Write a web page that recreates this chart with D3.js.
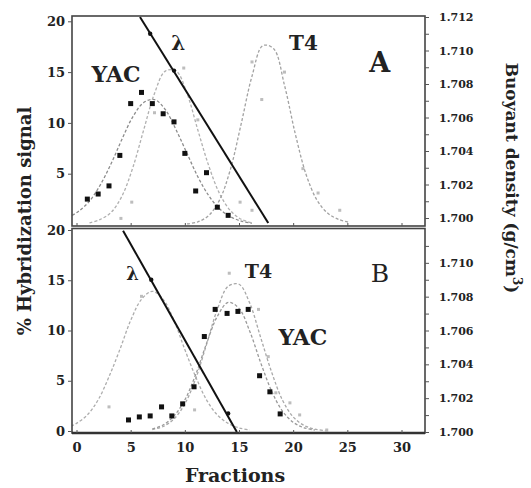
<!DOCTYPE html>
<html><head><meta charset="utf-8">
<script src="https://cdn.jsdelivr.net/npm/d3@7/dist/d3.min.js"></script>
<style>
body{margin:0;background:#fff}
text{font-family:"DejaVu Serif","Liberation Serif",serif;fill:#222}
</style>
</head><body>
<svg id="c" width="531" height="488"></svg>
<script>
// ---------- data ----------
const fractionTicks = [0, 5, 10, 15, 20, 25, 30];
const signalTicksA = [5, 10, 15, 20];
const signalTicksB = [0, 5, 10, 15, 20];
const densityTicksA = [1.700,1.701,1.702,1.703,1.704,1.705,1.706,1.707,1.708,1.709,1.710,1.711,1.712];
const densityLabelsA = [1.700,1.702,1.704,1.706,1.708,1.710,1.712];
const densityTicksB = [1.700,1.701,1.702,1.703,1.704,1.705,1.706,1.707,1.708,1.709,1.710,1.711];
const densityLabelsB = [1.700,1.702,1.704,1.706,1.708,1.710];

// Panel A: fitted curves [fraction, % signal]
const yacCurveA = [[-0.4,0.9],[0.2,1.3],[1.2,2.3],[2.2,3.9],[3.2,6.0],[4.2,8.4],[5.2,10.6],[6.2,12.0],[7.2,12.3],[8.2,11.3],[9.2,9.3],[10.2,7.0],[11.2,4.7],[12.2,2.85],[13.2,1.55],[14.2,0.77],[15.2,0.34],[16.2,0.13]];
const lambdaCurveA = [[1.2,0.17],[2.2,0.5],[3.2,1.2],[4.2,2.8],[5.2,5.6],[6.2,9.3],[7.2,12.9],[8.2,15.1],[9.2,15.1],[10.2,12.9],[11.2,9.3],[12.2,5.8],[13.2,3.05],[14.2,1.37],[15.2,0.52],[16.2,0.17]];
const t4CurveA = [[10.2,0.06],[11.2,0.26],[12.2,0.88],[13.2,2.4],[14.2,5.4],[15.2,9.9],[16.2,14.6],[17.2,17.6],[18.2,17.3],[19.2,13.7],[20.2,8.9],[21.2,4.9],[22.2,2.4],[23.2,1.1],[24.2,0.5],[25.2,0.2]];
// Panel A: measured points
const yacFracA = [1,2,3,4,5,6,7,8,9,10,11,12,13,14];
const yacSignalA = [2.5,3.0,3.8,6.8,11.9,13.0,11.9,10.9,10.1,7.0,3.3,5.1,1.7,0.9];
const lambdaPtsA = [[4.1,0.6],[5.1,2.2],[7.2,11.0],[9.9,15.4],[11.2,10.3],[15.1,2.2],[16.2,1.4]];
const t4PtsA = [[16.2,16.0],[17.1,12.3],[19.2,15.0],[20.9,5.5],[22.3,3.1],[24.3,1.4]];
// Panel A: buoyant density gradient [fraction, g/cm3]
const densityLineA = [[5.86,1.7120],[17.7,1.6997]];
const densityPtsA = [[6.8,1.7110],[9.0,1.7088]];

// Panel B
const lambdaCurveB = [[-0.5,0.49],[0,0.76],[1,1.6],[2,3.1],[3,5.4],[4,8.1],[5,11.0],[6,13.1],[7,13.9],[8,13.1],[9,11.0],[10,8.1],[11,5.4],[12,3.1],[13,1.6],[14,0.76],[15,0.31],[16,0.11]];
const t4CurveB = [[7,0.15],[8,0.45],[9,1.2],[10,2.7],[11,5.2],[12,8.6],[13,12.1],[14,14.4],[15,14.6],[16,12.7],[17,9.3],[18,5.9],[19,3.1],[20,1.4],[21,0.56],[22,0.18],[23,0.05]];
const yacCurveB = [[7,0.2],[8,0.6],[9,1.5],[10,3.1],[11,5.6],[12,8.7],[13,11.4],[14,12.8],[15,12.2],[16,9.9],[17,6.8],[18,4.0],[19,2.0],[20,0.87],[21,0.32],[22,0.1]];
const yacFracB = [4.8,5.8,6.8,7.85,8.8,9.8,10.85,11.8,12.8,13.9,14.9,15.85,16.9,17.85,18.8];
const yacSignalB = [1.1,1.4,1.5,2.4,1.5,2.7,4.4,9.4,12.1,11.7,11.9,12.1,5.5,3.9,1.7];
const lambdaPtsB = [[3.0,2.4],[6.0,13.4],[10.9,2.1]];
const t4PtsB = [[14.1,15.7],[16.8,12.1],[17.7,7.4],[18.4,3.8],[19.7,2.8],[20.6,1.6],[23.1,0.1]];
const densityLineB = [[4.3,1.7119],[14.8,1.7000]];
const densityPtsB = [[6.9,1.7090],[14.0,1.7011]];

// ---------- layout ----------
const svg = d3.select("#c");
const L = 72, R = 425;
const panelA = {top: 16, bottom: 226};
const panelB = {top: 228.5, bottom: 433};

const x = d3.scaleLinear().domain([0, 30]).range([76.5, 401.5]);
const yA = d3.scaleLinear().domain([0, 20]).range([224.5, 21.3]);
const yB = d3.scaleLinear().domain([0, 20]).range([431, 230]);
const dA = d3.scaleLinear().domain([1.700, 1.712]).range([218, 17]);
const dB = d3.scaleLinear().domain([1.700, 1.712]).range([432, 229]);

const defs = svg.append("defs");
[["clipA", panelA], ["clipB", panelB]].forEach(([id, p]) => {
  defs.append("clipPath").attr("id", id).append("rect")
    .attr("x", L).attr("y", p.top).attr("width", R - L).attr("height", p.bottom - p.top);
});

function drawPanel(p, clipId, y, d, curves, yacF, yacV, grayPts, dLine, dPts) {
  const g = svg.append("g").attr("clip-path", `url(#${clipId})`);
  curves.forEach(c => {
    g.append("path").datum(c.data)
      .attr("fill", "none").attr("stroke", c.color).attr("stroke-width", 1.3)
      .attr("stroke-dasharray", "3,2")
      .attr("d", d3.line().x(v => x(v[0])).y(v => y(v[1])).curve(d3.curveCatmullRom));
  });
  grayPts.forEach(pts => {
    g.selectAll(null).data(pts).enter().append("rect")
      .attr("x", v => x(v[0]) - 1.5).attr("y", v => y(v[1]) - 1.5)
      .attr("width", 3).attr("height", 3).attr("fill", "#bdbdbd");
  });
  g.selectAll(null).data(yacF).enter().append("rect")
    .attr("x", (f) => x(f) - 2.5).attr("y", (f, i) => y(yacV[i]) - 2.5)
    .attr("width", 5).attr("height", 5).attr("fill", "#111");
  g.append("path").datum(dLine).attr("fill", "none").attr("stroke", "#111").attr("stroke-width", 2)
    .attr("d", d3.line().x(v => x(v[0])).y(v => d(v[1])));
  g.selectAll(null).data(dPts).enter().append("circle")
    .attr("cx", v => x(v[0])).attr("cy", v => d(v[1])).attr("r", 2.2).attr("fill", "#111");
  // frame
  svg.append("rect").attr("x", L).attr("y", p.top).attr("width", R - L).attr("height", p.bottom - p.top)
    .attr("fill", "none").attr("stroke", "#444").attr("stroke-width", 1.6);
}

drawPanel(panelA, "clipA", yA, dA,
  [{data: yacCurveA, color: "#8c8c8c"}, {data: lambdaCurveA, color: "#b0b0b0"}, {data: t4CurveA, color: "#a2a2a2"}],
  yacFracA, yacSignalA, [lambdaPtsA, t4PtsA], densityLineA, densityPtsA);
drawPanel(panelB, "clipB", yB, dB,
  [{data: lambdaCurveB, color: "#adadad"}, {data: t4CurveB, color: "#a8a8a8"}, {data: yacCurveB, color: "#9a9a9a"}],
  yacFracB, yacSignalB, [lambdaPtsB, t4PtsB], densityLineB, densityPtsB);

// thick bottom axis line
svg.append("line").attr("x1", L).attr("x2", R).attr("y1", panelB.bottom).attr("y2", panelB.bottom)
  .attr("stroke", "#333").attr("stroke-width", 2.6);

// ---------- axes ----------
function styleAxis(g, size) {
  g.select(".domain").remove();
  g.selectAll(".tick line").attr("stroke", "#555").attr("stroke-width", 1);
  g.selectAll("text").attr("font-family", '"DejaVu Serif",serif').attr("font-weight", "bold")
    .attr("font-size", size).attr("fill", "#333");
}
svg.append("g").attr("transform", `translate(${L},0)`)
  .call(d3.axisLeft(yA).tickValues(signalTicksA).tickSize(4).tickPadding(3).tickFormat(d3.format("d")))
  .call(g => styleAxis(g, 13));
svg.append("g").attr("transform", `translate(${L},0)`)
  .call(d3.axisLeft(yB).tickValues(signalTicksB).tickSize(4).tickPadding(3).tickFormat(d3.format("d")))
  .call(g => styleAxis(g, 13));
svg.append("g").attr("transform", `translate(0,${panelB.bottom})`)
  .call(d3.axisBottom(x).tickValues(fractionTicks).tickSizeInner(-3).tickSizeOuter(0).tickPadding(10).tickFormat(d3.format("d")))
  .call(g => styleAxis(g, 13));
svg.append("g").attr("transform", `translate(0,${panelA.bottom})`)
  .call(d3.axisBottom(x).tickValues(fractionTicks).tickSizeInner(-3).tickSizeOuter(0).tickFormat(""))
  .call(g => styleAxis(g, 13));
svg.append("g").attr("transform", `translate(${R},0)`)
  .call(d3.axisRight(dA).tickValues(densityTicksA).tickSize(4).tickPadding(10)
    .tickFormat(v => densityLabelsA.includes(v) ? d3.format(".3f")(v) : ""))
  .call(g => styleAxis(g, 11));
svg.append("g").attr("transform", `translate(${R},0)`)
  .call(d3.axisRight(dB).tickValues(densityTicksB).tickSize(4).tickPadding(10)
    .tickFormat(v => densityLabelsB.includes(v) ? d3.format(".3f")(v) : ""))
  .call(g => styleAxis(g, 11));

// ---------- annotations ----------
function label(txt, xv, yv, size, weight) {
  svg.append("text").attr("x", xv).attr("y", yv).attr("text-anchor", "middle")
    .attr("font-size", size).attr("font-weight", weight || "bold").text(txt);
}
label("YAC", x(3.65), yA(14.05), 22);
label("λ", x(9.4), yA(17.2), 20);
label("T4", x(20.95), yA(17.2), 20);
label("A", x(28.0), yA(15.0), 27);
label("λ", x(5.17), yB(15.0), 18);
label("T4", x(16.8), yB(15.2), 19);
label("YAC", x(20.9), yB(8.56), 22);
label("B", x(28.0), yB(14.8), 25, "normal");

svg.append("text").attr("x", 235).attr("y", 482).attr("text-anchor", "middle")
  .attr("font-size", 19).attr("font-weight", "bold").text("Fractions");
svg.append("text").attr("transform", "translate(31,221) rotate(-90)").attr("text-anchor", "middle")
  .attr("font-size", 18).attr("font-weight", "bold").text("% Hybridization signal");
const rt = svg.append("text").attr("transform", "translate(506,178) rotate(90)").attr("text-anchor", "middle")
  .attr("font-size", 17).attr("font-weight", "bold");
rt.append("tspan").text("Buoyant density (g/cm");
rt.append("tspan").attr("font-size", 12).attr("dy", -7).text("3");
rt.append("tspan").attr("dy", 7).text(")");
</script>
</body></html>
